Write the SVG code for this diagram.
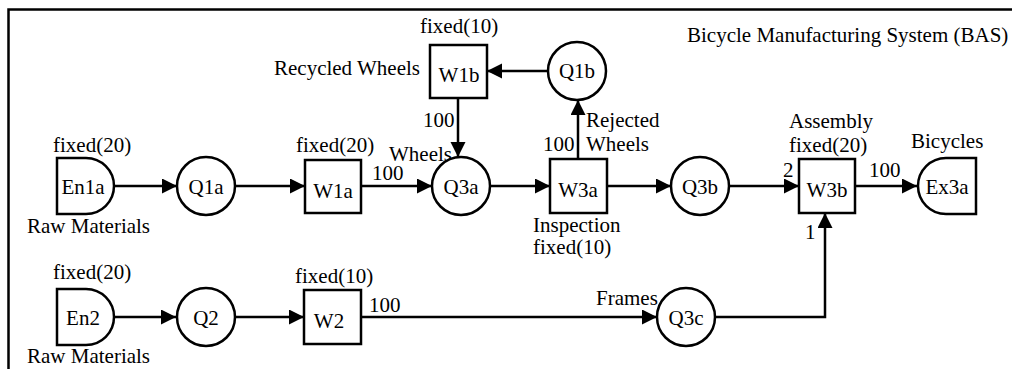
<svg xmlns="http://www.w3.org/2000/svg" width="1012" height="369" viewBox="0 0 1012 369">
<defs>
<marker id="ah" markerUnits="userSpaceOnUse" markerWidth="16" markerHeight="16" refX="15" refY="7.5" orient="auto">
<path d="M0,0 L15,7.5 L0,15 Z" fill="#000"/>
</marker>
<style>
text{font-family:"Liberation Serif","Times New Roman",serif;font-size:21px;fill:#000}
.n{text-anchor:middle}
.s{fill:#fff;stroke:#000;stroke-width:2.5}
.c path{fill:none;stroke:#000;stroke-width:2.5;marker-end:url(#ah)}
</style>
</defs>
<rect x="0" y="0" width="1012" height="369" fill="#fff"/>
<rect x="8.5" y="9.5" width="1100" height="400" fill="none" stroke="#000" stroke-width="2.5"/>
<text x="687" y="42">Bicycle Manufacturing System (BAS)</text>
<g class="c" id="connectors">
<path d="M114,186 H177"/>
<path d="M235,186 H305"/>
<path d="M361,186 H432"/>
<path d="M490,186 H550"/>
<path d="M607,186 H671"/>
<path d="M729,186 H799"/>
<path d="M855,186 H917"/>
<path d="M578,159 V100"/>
<path d="M548,71 H487"/>
<path d="M458,98 V157"/>
<path d="M114,317 H176"/>
<path d="M235,317 H304"/>
<path d="M361,317 H657"/>
<path d="M715,317 H825 V213"/>
</g>
<g id="labels">
<text x="372" y="180">100</text>
<text x="389" y="161">Wheels</text>
<text x="423" y="127">100</text>
<text x="543" y="151">100</text>
<text x="586" y="127">Rejected</text>
<text x="586" y="151">Wheels</text>
<text x="783" y="177">2</text>
<text x="869" y="177">100</text>
<text x="805" y="239">1</text>
<text x="369" y="312">100</text>
<text x="596" y="305">Frames</text>
</g>
<g id="En1a">
<path class="s" d="M57,158 H86 A28,28 0 0 1 86,214 H57 Z"/>
<text class="n" x="83" y="194">En1a</text>
<text x="53" y="152">fixed(20)</text>
<text x="27" y="233">Raw Materials</text>
</g>
<g id="Q1a">
<circle class="s" cx="206" cy="186" r="29"/>
<text class="n" x="206" y="194">Q1a</text>
</g>
<g id="W1a">
<rect class="s" x="305" y="160" width="56" height="53"/>
<text class="n" x="333" y="198">W1a</text>
<text x="296" y="152">fixed(20)</text>
</g>
<g id="Q3a">
<circle class="s" cx="461" cy="186" r="29"/>
<text class="n" x="461" y="194">Q3a</text>
</g>
<g id="W3a">
<rect class="s" x="550" y="159" width="57" height="54"/>
<text class="n" x="578" y="197">W3a</text>
<text x="533" y="232">Inspection</text>
<text x="533" y="254">fixed(10)</text>
</g>
<g id="Q3b">
<circle class="s" cx="700" cy="186" r="29"/>
<text class="n" x="700" y="194">Q3b</text>
</g>
<g id="W3b">
<rect class="s" x="799" y="159" width="56" height="54"/>
<text class="n" x="827" y="197">W3b</text>
<text x="789" y="128">Assembly</text>
<text x="789" y="152">fixed(20)</text>
</g>
<g id="Ex3a">
<path class="s" d="M976,158 H946 A28,28 0 0 0 946,214 H976 Z"/>
<text class="n" x="947" y="194">Ex3a</text>
<text x="911" y="148">Bicycles</text>
</g>
<g id="Q1b">
<circle class="s" cx="577" cy="71" r="29"/>
<text class="n" x="577" y="78">Q1b</text>
</g>
<g id="W1b">
<rect class="s" x="430" y="45" width="57" height="53"/>
<text class="n" x="459" y="82">W1b</text>
<text x="420" y="33">fixed(10)</text>
<text x="274" y="75">Recycled Wheels</text>
</g>
<g id="En2">
<path class="s" d="M57,289 H86 A28,28 0 0 1 86,345 H57 Z"/>
<text class="n" x="83" y="325">En2</text>
<text x="53" y="279">fixed(20)</text>
<text x="27" y="363">Raw Materials</text>
</g>
<g id="Q2">
<circle class="s" cx="206" cy="317" r="29"/>
<text class="n" x="206" y="325">Q2</text>
</g>
<g id="W2">
<rect class="s" x="304" y="290" width="57" height="54"/>
<text class="n" x="329" y="328">W2</text>
<text x="295" y="283">fixed(10)</text>
</g>
<g id="Q3c">
<circle class="s" cx="686" cy="317" r="29"/>
<text class="n" x="686" y="325">Q3c</text>
</g>
</svg>
